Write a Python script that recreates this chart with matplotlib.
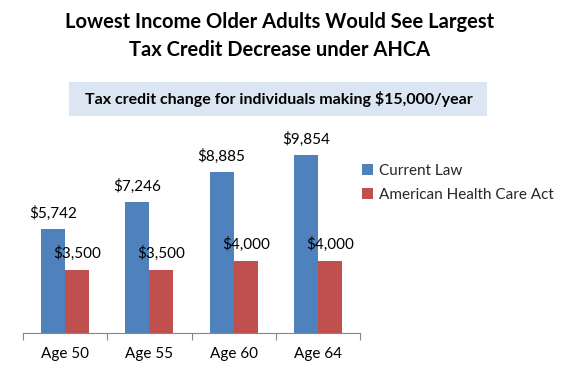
import matplotlib
matplotlib.use("Agg")
import matplotlib.pyplot as plt
import numpy as np
from matplotlib.patches import Rectangle

categories = ["Age 50", "Age 55", "Age 60", "Age 64"]
current_law = [5742, 7246, 8885, 9854]
ahca = [3500, 3500, 4000, 4000]
series_names = ["Current Law", "American Health Care Act"]
title = "Lowest Income Older Adults Would See Largest\nTax Credit Decrease under AHCA"
subtitle = "Tax credit change for individuals making $15,000/year"

plt.rcParams['font.family'] = ['Lato', 'DejaVu Sans']
W, H = 561, 368
fig = plt.figure(figsize=(W/100, H/100), dpi=100)

blue = "#4F81BD"
red = "#C0504D"

ax = fig.add_axes([23/W, (H-333)/H, 337/W, 217/H])
x = np.arange(len(categories))
bw = 0.286
b1 = ax.bar(x - bw/2, current_law, bw, color=blue, label=series_names[0])
b2 = ax.bar(x + bw/2, ahca, bw, color=red, label=series_names[1])
ax.set_xlim(-0.5, len(categories) - 0.5)
ax.set_ylim(0, 12000)
for s in ["top", "right", "left"]:
    ax.spines[s].set_visible(False)
ax.spines["bottom"].set_color("#868686")
ax.set_yticks([])
ax.set_xticks(np.arange(-0.5, len(categories), 1.0))
ax.set_xticklabels([])
ax.tick_params(axis="x", length=5, color="#868686", width=0.8)
ax.set_xticks(x, minor=True)
ax.set_xticklabels(categories, minor=True, fontsize=11)
ax.tick_params(axis="x", which="minor", length=0, pad=10)

for bars, vals in ((b1, current_law), (b2, ahca)):
    for rect, v in zip(bars, vals):
        ax.annotate(f"${v:,}", (rect.get_x() + rect.get_width()/2, v),
                    xytext=(0, 6), textcoords="offset points",
                    ha="center", va="bottom", fontsize=11, color="#000000", clip_on=False)

leg = ax.legend(loc="upper left", bbox_to_anchor=(362/W, (H-164)/H), bbox_transform=fig.transFigure,
                frameon=False, fontsize=11, handlelength=0.7, handleheight=0.7,
                handletextpad=0.4, labelspacing=0.65, borderaxespad=0, borderpad=0)
for t in leg.get_texts():
    t.set_color("#262626")

fig.text(280/W, 1 - 36/H, title, ha="center", va="center", fontsize=14.5,
         fontweight="bold", linespacing=1.45)

fig.patches.append(Rectangle((69/W, 1 - 116/H), (487-69)/W, 34/H, transform=fig.transFigure,
                             facecolor="#DCE6F2", edgecolor="none", zorder=0))
fig.text(279/W, 1 - 99/H, subtitle, ha="center", va="center", fontsize=11.5, fontweight="bold")

fig.savefig("out.png", dpi=100)
